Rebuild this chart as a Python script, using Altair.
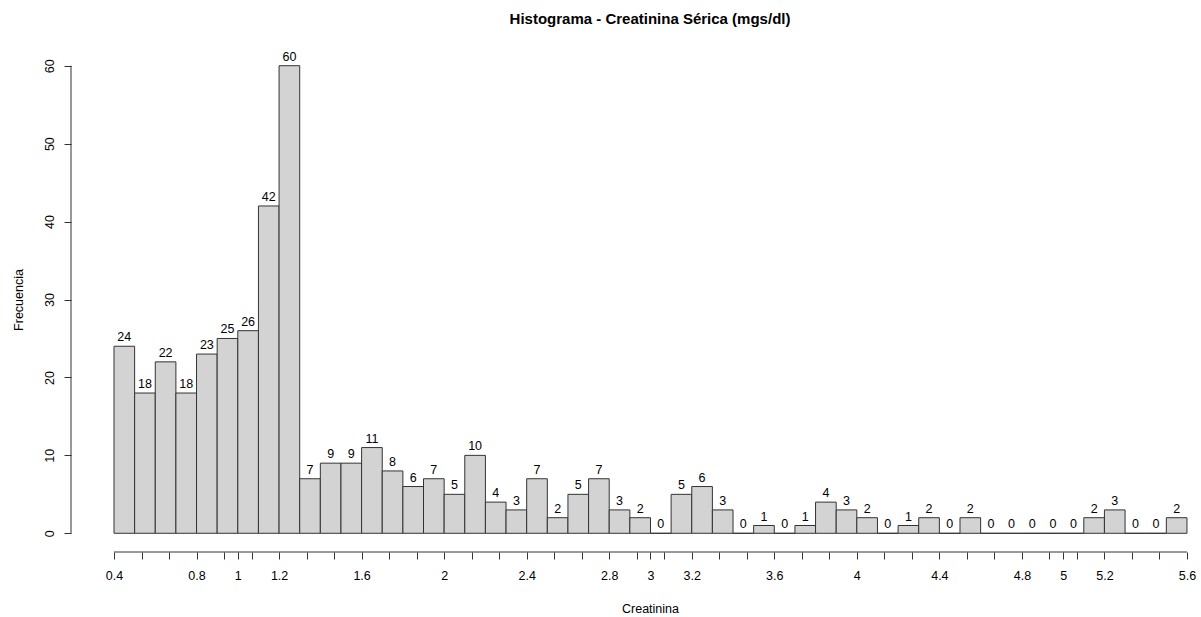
import altair as alt
import pandas as pd

# ---- data ----
counts = [24, 18, 22, 18, 23, 25, 26, 42, 60, 7, 9, 9, 11, 8, 6, 7, 5, 10, 4, 3,
          7, 2, 5, 7, 3, 2, 0, 5, 6, 3, 0, 1, 0, 1, 4, 3, 2, 0, 1, 2,
          0, 2, 0, 0, 0, 0, 0, 2, 3, 0, 0, 2]
bin_origin = 0.4
bin_width = 0.1
y_ticks = [0, 10, 20, 30, 40, 50, 60]
x_label_values = [0.4, 0.8, 1, 1.2, 1.6, 2, 2.4, 2.8, 3, 3.2, 3.6, 4, 4.4, 4.8, 5, 5.2, 5.6]
x_extra_ticks = [1, 3, 5]
x_tick_count = 40  # ticks evenly spread from 0.4 to 5.6

starts = [round(bin_origin + i * bin_width, 4) for i in range(len(counts))]
ends = [round(s + bin_width, 4) for s in starts]
df = pd.DataFrame({
    "start": starts,
    "end": ends,
    "mid": [(a + b) / 2 for a, b in zip(starts, ends)],
    "count": counts,
    "base": [0] * len(counts),
})

x_min, x_max = starts[0], ends[-1]
x_ticks = sorted(set(
    [round(x_min + k * (x_max - x_min) / (x_tick_count - 1), 6) for k in range(x_tick_count)]
    + x_extra_ticks
))
label_keys = [int(round(v * 1000)) for v in x_label_values]
label_expr = ("indexof([" + ",".join(str(k) for k in label_keys) +
              "], round(datum.value*1000)) >= 0 ? format(datum.value, '~g') : ''")

FONT = "Liberation Sans"
W, H = 1130, 505
AXIS_COLOR = "#333333"

xscale = alt.Scale(domain=[0.1916, 5.668], nice=False, zero=False)
yscale = alt.Scale(domain=[-2.4, 62.4], nice=False, zero=False)

xaxis = alt.Axis(values=x_ticks, tickCount=len(x_ticks) + 20, labelExpr=label_expr,
                 grid=False, domain=False,
                 tickSize=7, tickColor=AXIS_COLOR, tickWidth=1,
                 labelFont=FONT, labelFontSize=12.5, labelColor="black", labelPadding=10,
                 labelOverlap=False, labelFlush=False,
                 title="Creatinina", titleFont=FONT, titleFontSize=12.5,
                 titleFontWeight="normal", titleColor="black",
                 titleX=579, titleY=60, titleAlign="center", titleBaseline="alphabetic")
yaxis = alt.Axis(values=y_ticks, tickCount=len(y_ticks) + 5, grid=False, domain=False,
                 tickSize=7, tickColor=AXIS_COLOR, tickWidth=1,
                 labelFont=FONT, labelFontSize=12.5, labelColor="black", labelPadding=8,
                 labelAngle=270, labelAlign="center", labelBaseline="bottom",
                 labelOverlap=False, labelFlush=False,
                 title="Frecuencia", titleFont=FONT, titleFontSize=12.5,
                 titleFontWeight="normal", titleColor="black", titleAngle=270,
                 titleX=-49, titleY=252.5, titleAlign="center", titleBaseline="alphabetic")

bars = alt.Chart(df).mark_rect(fill="#D3D3D3", stroke=AXIS_COLOR, strokeWidth=1).encode(
    x=alt.X("start:Q", scale=xscale, axis=xaxis),
    x2="end:Q",
    y=alt.Y("count:Q", scale=yscale, axis=yaxis),
    y2="base:Q",
)

labels = alt.Chart(df).mark_text(font=FONT, fontSize=12.5, color="black",
                                 align="center", baseline="alphabetic", dy=-5).encode(
    x=alt.X("mid:Q", scale=xscale, axis=xaxis),
    y=alt.Y("count:Q", scale=yscale, axis=yaxis),
    text="count:Q",
)

yline = alt.Chart(pd.DataFrame({"y0": [y_ticks[0]], "y1": [y_ticks[-1]]})).mark_rule(
    color=AXIS_COLOR, strokeWidth=1).encode(
    x=alt.value(0),
    y=alt.Y("y0:Q", scale=yscale, axis=yaxis),
    y2="y1:Q",
)

xline = alt.Chart(pd.DataFrame({"x0": [x_min], "x1": [x_max]})).mark_rule(
    color=AXIS_COLOR, strokeWidth=1).encode(
    x=alt.X("x0:Q", scale=xscale, axis=xaxis),
    x2="x1:Q",
    y=alt.value(H),
)

chart = alt.layer(bars, labels, yline, xline).properties(
    width=W, height=H,
    title=alt.TitleParams("Histograma - Creatinina Sérica (mgs/dl)", font=FONT, fontSize=15,
                          fontWeight="bold", color="black", anchor="middle", frame="group",
                          dx=14, offset=8, baseline="alphabetic"),
    autosize=alt.AutoSizeParams(type="none"),
    padding={"left": 71, "top": 47, "right": 0, "bottom": 65},
    background="white",
).configure_view(stroke=None)

chart.save("out.html", embed_options={"renderer": "svg", "actions": False})
